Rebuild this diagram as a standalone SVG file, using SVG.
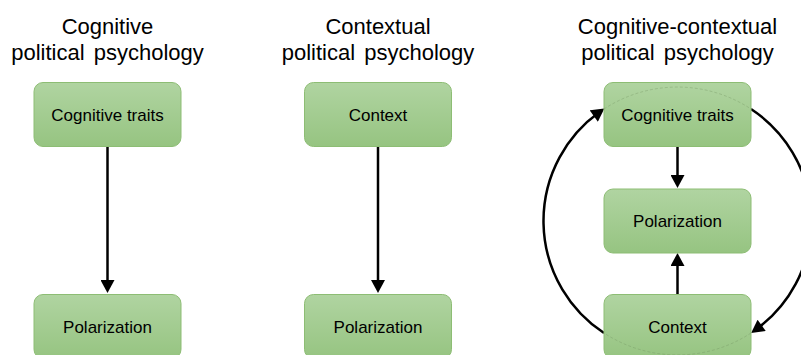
<svg xmlns="http://www.w3.org/2000/svg" width="801" height="355" viewBox="0 0 801 355">
  <defs>
    <linearGradient id="boxGrad" x1="0" y1="0" x2="0" y2="1">
      <stop offset="0" stop-color="#b0d4a1"/>
      <stop offset="1" stop-color="#96c481"/>
    </linearGradient>
    <marker id="arrow" markerUnits="userSpaceOnUse" markerWidth="14" markerHeight="14" viewBox="0 0 13 14" refX="7" refY="7" orient="auto">
      <path d="M0,0 L13,7 L0,14 z" fill="#000"/>
    </marker>
  </defs>
  <style>
    .title { font-family: "Liberation Sans", Arial, sans-serif; font-size: 22px; fill: #000; text-anchor: middle; word-spacing: 3px; }
    .box { fill: url(#boxGrad); stroke: #8dbd74; stroke-width: 1; }
    .label { font-family: "Liberation Sans", Arial, sans-serif; font-size: 17px; fill: #000; text-anchor: middle; }
    .conn { fill: none; stroke: #000; stroke-width: 2.5; marker-end: url(#arrow); }
    .ghost { fill: none; stroke: #6f8f5f; stroke-width: 1; stroke-dasharray: 3 2; opacity: 0.35; }
  </style>
  <rect width="801" height="355" fill="#fff"/>

  <g id="titles">
    <text class="title" x="107.5" y="34">Cognitive</text>
    <text class="title" x="107.5" y="60">political psychology</text>
    <text class="title" x="378" y="34">Contextual</text>
    <text class="title" x="378" y="60">political psychology</text>
    <text class="title" x="677.5" y="34">Cognitive-contextual</text>
    <text class="title" x="677.5" y="60">political psychology</text>
  </g>

  <g id="connectors">
    <line class="conn" x1="107.5" y1="146" x2="107.5" y2="287"/>
    <line class="conn" x1="378" y1="146" x2="378" y2="287"/>
    <line class="conn" x1="677.5" y1="146" x2="677.5" y2="182"/>
    <line class="conn" x1="677.5" y1="294" x2="677.5" y2="259"/>
    <path class="conn" d="M604,333 A134,134 0 0 1 599.5,112"/>
    <path class="conn" d="M751,109 A134,134 0 0 1 756,329.5"/>
  </g>

  <g id="left-cognitive">
    <rect class="box" x="34" y="82.5" width="147" height="64" rx="9"/>
    <text class="label" x="107.5" y="121">Cognitive traits</text>
  </g>
  <g id="left-polarization">
    <rect class="box" x="34" y="294.5" width="147" height="64" rx="9"/>
    <text class="label" x="107.5" y="333">Polarization</text>
  </g>

  <g id="mid-context">
    <rect class="box" x="304.5" y="82.5" width="147" height="64" rx="9"/>
    <text class="label" x="378" y="121">Context</text>
  </g>
  <g id="mid-polarization">
    <rect class="box" x="304.5" y="294.5" width="147" height="64" rx="9"/>
    <text class="label" x="378" y="333">Polarization</text>
  </g>

  <g id="right-cognitive">
    <rect class="box" x="604" y="82.5" width="147" height="64" rx="9"/>
    <text class="label" x="677.5" y="121">Cognitive traits</text>
  </g>
  <g id="right-polarization">
    <rect class="box" x="604" y="189" width="147" height="64" rx="9"/>
    <text class="label" x="677.5" y="227">Polarization</text>
  </g>
  <g id="right-context">
    <rect class="box" x="604" y="294.5" width="147" height="64" rx="9"/>
    <text class="label" x="677.5" y="333">Context</text>
  </g>

  <g id="hidden-arcs">
    <path class="ghost" d="M604,109 A134,134 0 0 1 751,109"/>
    <path class="ghost" d="M751,333 A134,134 0 0 1 604,333"/>
  </g>
</svg>
